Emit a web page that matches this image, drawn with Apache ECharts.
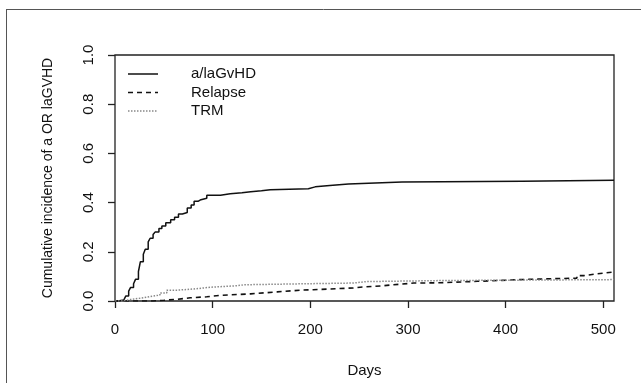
<!DOCTYPE html>
<html>
<head>
<meta charset="utf-8">
<script src="https://cdn.jsdelivr.net/npm/echarts@6/dist/echarts.min.js"></script>
<style>html,body{margin:0;padding:0;background:#fff;}#c{width:641px;height:383px;}</style>
</head>
<body>
<div id="c"></div>
<script>
const seriesNames = ['a/laGvHD', 'Relapse', 'TRM'];
const xTicks = [0, 100, 200, 300, 400, 500];
const yTicks = [0, 0.2, 0.4, 0.6, 0.8, 1.0];

const gvhdDays = [0,3,9,11,14,16,19,21,24,26,29,31,34,36,39,41,45,48,52,57,61,65,69,74,78,81,85,88,94,108,113,118,130,139,150,159,198,205,220,239,294,417,511];
const gvhdVals = [0,0.004,0.01,0.02,0.04,0.055,0.07,0.088,0.12,0.16,0.19,0.21,0.24,0.255,0.27,0.28,0.295,0.305,0.318,0.33,0.34,0.354,0.36,0.378,0.39,0.405,0.412,0.418,0.43,0.433,0.436,0.44,0.444,0.448,0.452,0.456,0.464,0.47,0.476,0.484,0.487,0.491,0.491];

const relapseDays = [0,39,50,64,77,94,108,139,166,190,203,244,251,275,285,306,333,371,422,473,480,493,511];
const relapseVals = [0,0.003,0.007,0.013,0.017,0.023,0.029,0.037,0.044,0.046,0.053,0.056,0.062,0.066,0.073,0.074,0.08,0.088,0.093,0.103,0.11,0.118,0.118];

const trmDays = [0,8,12,17,23,29,36,46,53,64,81,98,125,132,193,244,258,333,511];
const trmVals = [0,0.003,0.007,0.01,0.013,0.018,0.024,0.033,0.044,0.049,0.056,0.062,0.066,0.07,0.073,0.079,0.083,0.087,0.087];

function pairs(xs, ys) { return xs.map((x, i) => [x, ys[i]]); }

const font = 'Liberation Sans, Arial, sans-serif';
const lineColors = ['#111', '#111', '#888'];
const lineDashes = [null, [5, 4], [1.5, 1.5]];
const lineWidths = [1.5, 1.6, 1.5];

const legendGraphics = [];
seriesNames.forEach((name, i) => {
  const y = 74 + i * 18.5;
  legendGraphics.push({type: 'line', silent: true, shape: {x1: 128, y1: y, x2: 158, y2: y},
    style: {stroke: lineColors[i], lineWidth: lineWidths[i], lineDash: lineDashes[i]}});
  legendGraphics.push({type: 'text', silent: true, x: 191, y: y,
    style: {text: name, fill: '#111', font: '15px ' + font, textVerticalAlign: 'middle', verticalAlign: 'middle'}});
});

const chart = echarts.init(document.getElementById('c'), null, {renderer: 'canvas'});
chart.setOption({
  animation: false,
  backgroundColor: '#fff',
  grid: {left: 115, right: 27, top: 55, bottom: 76, show: true, borderColor: '#222', borderWidth: 1.3, backgroundColor: 'transparent'},
  xAxis: {
    type: 'value', min: 0, max: 511, interval: 100,
    name: 'Days', nameLocation: 'middle', nameGap: 62,
    nameTextStyle: {fontFamily: font, fontSize: 15, color: '#111'},
    axisLine: {show: false},
    axisTick: {show: true, length: 7, inside: false, customValues: xTicks, lineStyle: {color: '#222', width: 1.3}},
    axisLabel: {customValues: xTicks, fontFamily: font, fontSize: 15, color: '#111', margin: 21},
    splitLine: {show: false}
  },
  yAxis: {
    type: 'value', min: 0, max: 1, interval: 0.2,
    name: 'Cumulative incidence of a OR laGVHD', nameLocation: 'middle', nameGap: 60, nameRotate: 90,
    nameTextStyle: {fontFamily: font, fontSize: 14, color: '#111'},
    axisLine: {show: false},
    axisTick: {show: true, length: 7, inside: false, customValues: yTicks, lineStyle: {color: '#222', width: 1.3}},
    axisLabel: {customValues: yTicks, rotate: 90, fontFamily: font, fontSize: 15, color: '#111', margin: 19,
      formatter: v => v.toFixed(1)},
    splitLine: {show: false}
  },
  series: [
    {name: seriesNames[0], type: 'line', step: 'end', showSymbol: false, symbol: 'none',
     data: pairs(gvhdDays, gvhdVals), lineStyle: {color: lineColors[0], width: lineWidths[0], type: 'solid'}},
    {name: seriesNames[1], type: 'line', step: 'end', showSymbol: false, symbol: 'none',
     data: pairs(relapseDays, relapseVals), lineStyle: {color: lineColors[1], width: lineWidths[1], type: lineDashes[1]}},
    {name: seriesNames[2], type: 'line', step: 'end', showSymbol: false, symbol: 'none',
     data: pairs(trmDays, trmVals), lineStyle: {color: lineColors[2], width: lineWidths[2], type: lineDashes[2]}}
  ],
  graphic: [
    {type: 'line', silent: true, shape: {x1: 6, y1: 9.5, x2: 641, y2: 9.5}, style: {stroke: '#555', lineWidth: 1}},
    {type: 'line', silent: true, shape: {x1: 6.5, y1: 9, x2: 6.5, y2: 383}, style: {stroke: '#555', lineWidth: 1}}
  ].concat(legendGraphics)
});
</script>
</body>
</html>
